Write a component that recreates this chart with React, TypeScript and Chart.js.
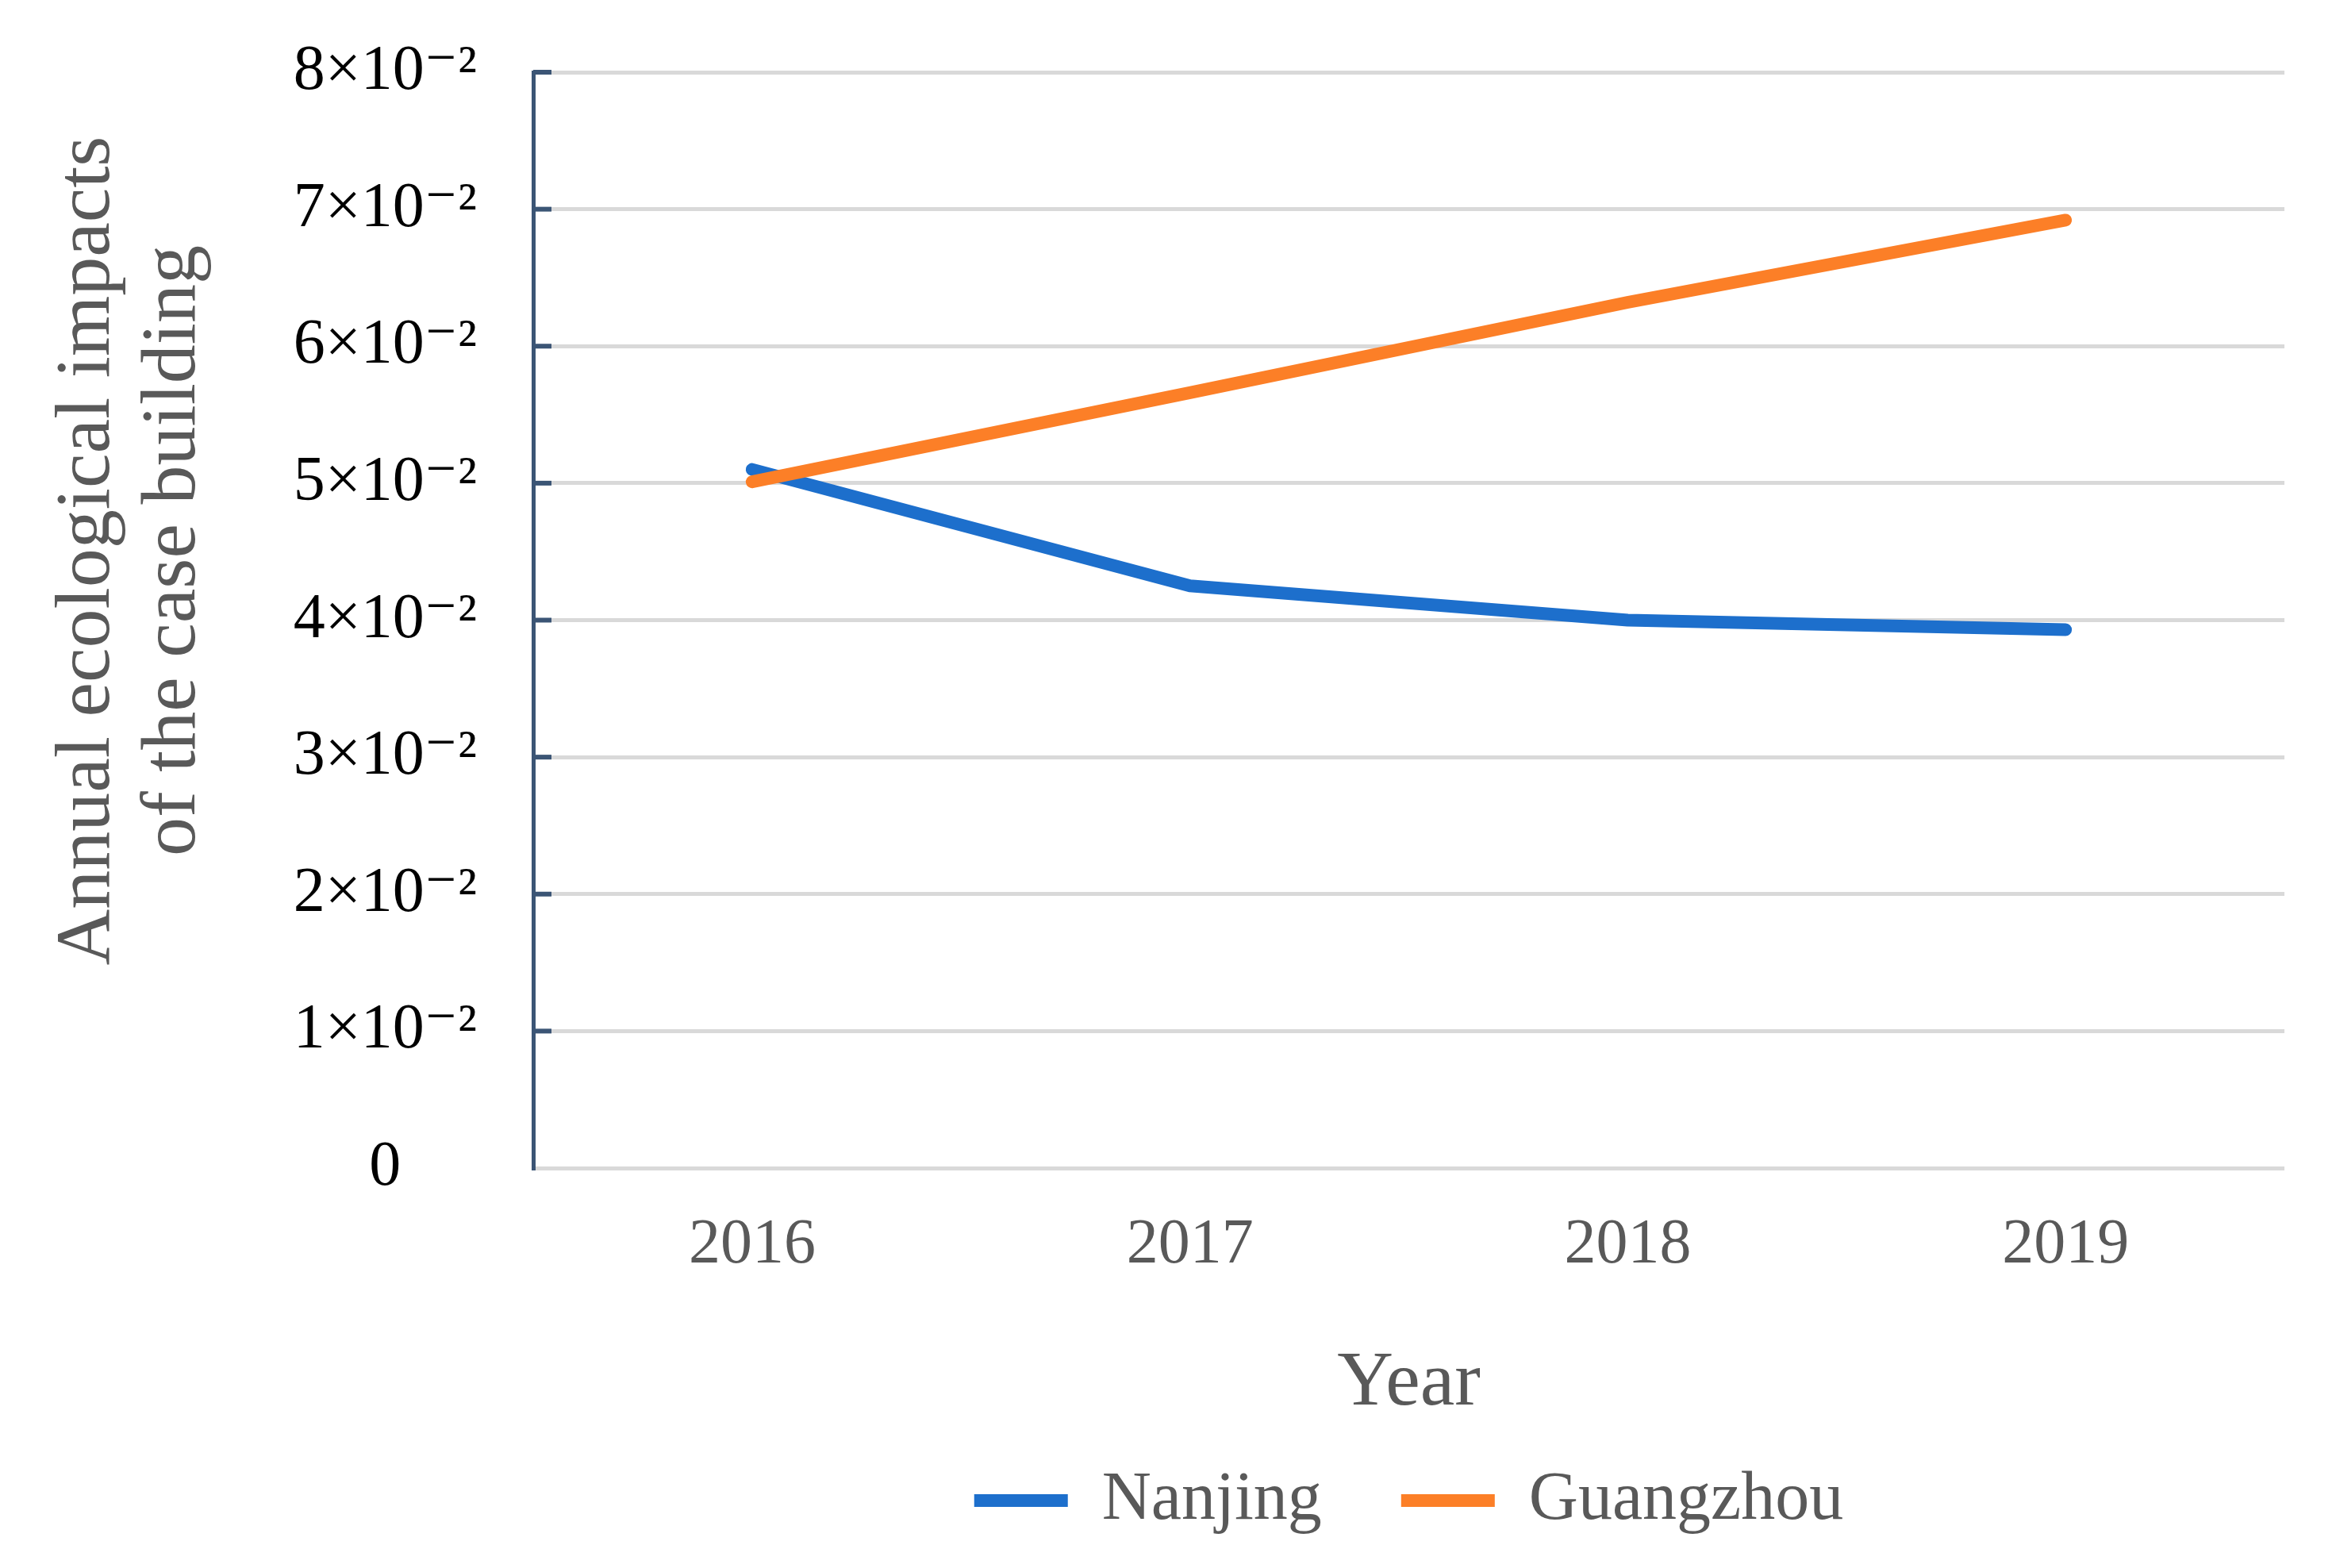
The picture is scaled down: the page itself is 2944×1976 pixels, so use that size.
import React, { useEffect, useRef } from "react";
import { Chart, registerables } from "chart.js";

Chart.register(...registerables);

const categories = ["2016", "2017", "2018", "2019"];
const nanjing = [0.051, 0.0425, 0.04, 0.0393];
const guangzhou = [0.0501, 0.0566, 0.0632, 0.0692];
const yTickLabels = [
  "0",
  "1×10⁻²",
  "2×10⁻²",
  "3×10⁻²",
  "4×10⁻²",
  "5×10⁻²",
  "6×10⁻²",
  "7×10⁻²",
  "8×10⁻²",
];
const yTitleLines = ["Annual ecological impacts", "of the case building"];
const xTitle = "Year";
const seriesNames = ["Nanjing", "Guangzhou"];

const FONT = "'Liberation Serif', 'DejaVu Serif', serif";
const AXIS_COLOR = "#3B5575";
const GRID_COLOR = "#D9D9D9";
const TEXT_GRAY = "#595959";

const yTitlePlugin = {
  id: "yTitlePlugin",
  afterDraw(chart: any) {
    const ctx = chart.ctx;
    ctx.save();
    ctx.translate(137, 694);
    ctx.rotate(-Math.PI / 2);
    ctx.font = `98px ${FONT}`;
    ctx.fillStyle = TEXT_GRAY;
    ctx.textAlign = "center";
    ctx.textBaseline = "alphabetic";
    yTitleLines.forEach((line, i) => ctx.fillText(line, 0, i * 108));
    ctx.restore();
  },
};

const innerTicksPlugin = {
  id: "innerTicksPlugin",
  afterDraw(chart: any) {
    const ctx = chart.ctx;
    const ys = chart.scales.y;
    const left = chart.chartArea.left;
    ctx.save();
    ctx.strokeStyle = AXIS_COLOR;
    ctx.lineWidth = 6;
    ys.ticks.forEach((t: any) => {
      if (t.value === 0) return;
      const py = ys.getPixelForValue(t.value);
      ctx.beginPath();
      ctx.moveTo(left, py);
      ctx.lineTo(left + 23, py);
      ctx.stroke();
    });
    ctx.restore();
  },
};

export default function App() {
  const ref = useRef<HTMLCanvasElement | null>(null);

  useEffect(() => {
    if (!ref.current) return;
    Chart.defaults.font.family = FONT;
    const chart = new Chart(ref.current, {
      type: "line",
      data: {
        labels: categories,
        datasets: [
          {
            label: seriesNames[0],
            data: nanjing,
            borderColor: "#1D6FCC",
            backgroundColor: "#1D6FCC",
            borderWidth: 16,
            borderCapStyle: "round",
            borderJoinStyle: "round",
            pointRadius: 0,
            tension: 0,
            fill: false,
            order: 1,
          },
          {
            label: seriesNames[1],
            data: guangzhou,
            borderColor: "#FC7F27",
            backgroundColor: "#FC7F27",
            borderWidth: 16,
            borderCapStyle: "round",
            borderJoinStyle: "round",
            pointRadius: 0,
            tension: 0,
            fill: false,
            order: 0,
          },
        ],
      },
      options: {
        animation: false,
        responsive: true,
        maintainAspectRatio: false,
        devicePixelRatio: 1,
        layout: { padding: { top: 91, right: 65, bottom: 32, left: 0 } },
        plugins: {
          tooltip: { enabled: false },
          legend: {
            position: "bottom",
            fullSize: false,
            labels: {
              usePointStyle: true,
              pointStyle: "line",
              pointStyleWidth: 118,
              font: { size: 86, family: FONT },
              color: TEXT_GRAY,
              padding: 100,
              sort: (a: any, b: any) => a.datasetIndex - b.datasetIndex,
            },
          },
        },
        scales: {
          x: {
            type: "category",
            offset: true,
            grid: { display: false, drawTicks: false },
            border: { display: false },
            ticks: {
              font: { size: 80, family: FONT },
              color: TEXT_GRAY,
              padding: 50,
            },
            title: {
              display: true,
              text: xTitle,
              font: { size: 98, family: FONT },
              color: TEXT_GRAY,
              padding: { top: 0, bottom: -55 },
            },
            afterFit: (s: any) => {
              s.height = 276;
            },
          },
          y: {
            min: 0,
            max: 0.08,
            grid: { color: GRID_COLOR, lineWidth: 5, drawTicks: false },
            border: { display: true, color: AXIS_COLOR, width: 5 },
            ticks: {
              stepSize: 0.01,
              font: { size: 80, family: FONT },
              color: "#000000",
              padding: 71,
              crossAlign: "center",
              callback: (v: any) => yTickLabels[Math.round(Number(v) * 100)],
            },
            afterFit: (s: any) => {
              s.width = 672;
              s.paddingTop = 0;
              s.paddingBottom = 0;
            },
          },
        },
      },
      plugins: [yTitlePlugin, innerTicksPlugin],
    });
    return () => chart.destroy();
  }, []);

  return (
    <div
      style={{
        position: "fixed",
        left: 0,
        top: 0,
        width: "2944px",
        height: "1976px",
        background: "#ffffff",
      }}
    >
      <canvas ref={ref} />
    </div>
  );
}
